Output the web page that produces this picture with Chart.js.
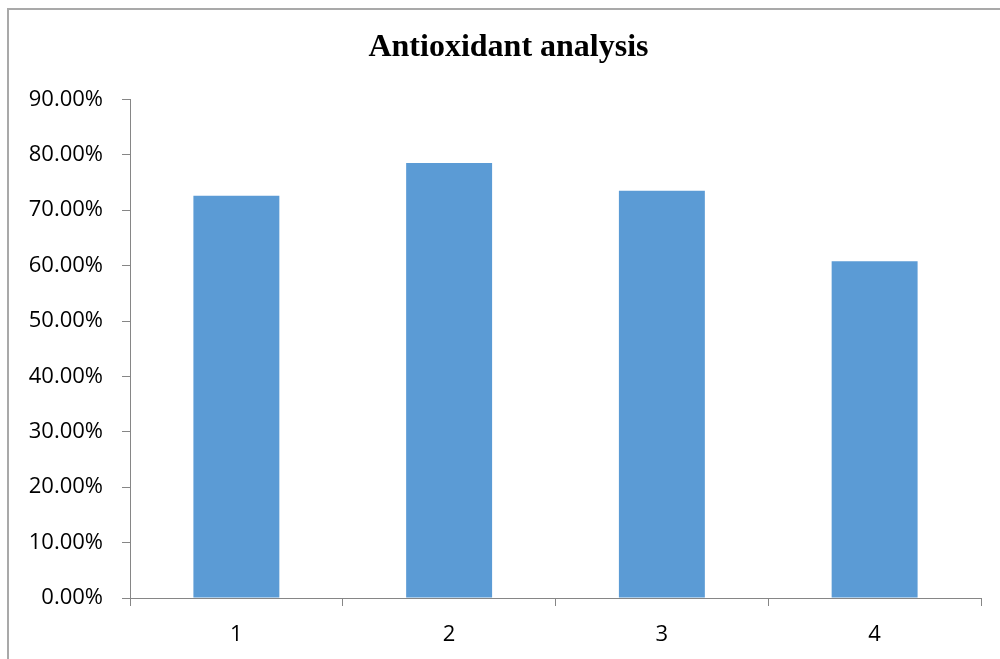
<!DOCTYPE html>
<html>
<head>
<meta charset="utf-8">
<title>Antioxidant analysis</title>
<script src="https://cdn.jsdelivr.net/npm/chart.js@4/dist/chart.umd.min.js"></script>
<style>
  html, body { margin: 0; padding: 0; background: #ffffff; }
  #wrap { width: 1000px; height: 659px; position: relative; }
</style>
</head>
<body>
<div id="wrap"><canvas id="chart" width="1000" height="659"></canvas></div>
<script>
// Sample numbers on the x axis
const categories = ['1', '2', '3', '4'];
// Antioxidant activity, percent
const antioxidantValues = [72.6, 78.5, 73.5, 60.8];
// Value axis range and step (percent)
const yMin = 0;
const yMax = 90;
const yStep = 10;

const axisGrey = '#868686';

// Thin grey frame along the top and left edge of the chart panel
const framePlugin = {
  id: 'panelFrame',
  beforeDraw(chart) {
    const ctx = chart.ctx;
    ctx.save();
    ctx.fillStyle = '#ffffff';
    ctx.fillRect(0, 0, chart.width, chart.height);
    ctx.strokeStyle = '#a9a9a9';
    ctx.lineWidth = 2;
    ctx.beginPath();
    ctx.moveTo(8, chart.height);
    ctx.lineTo(8, 9);
    ctx.lineTo(chart.width, 9);
    ctx.stroke();
    ctx.restore();
  }
};

// Nudge the title block so the heading sits centred over the whole panel
const titleShiftPlugin = {
  id: 'titleShift',
  afterLayout(chart) {
    const t = chart.titleBlock;
    if (t) { t.left += 8; t.right += 8; }
  }
};

new Chart(document.getElementById('chart'), {
  type: 'bar',
  data: {
    labels: categories,
    datasets: [{
      label: 'Antioxidant analysis',
      data: antioxidantValues,
      backgroundColor: '#5b9bd5',
      borderWidth: 0,
      barPercentage: 0.404,
      categoryPercentage: 1.0
    }]
  },
  options: {
    responsive: false,
    animation: false,
    devicePixelRatio: 1,
    layout: { padding: { left: 20, right: 19, top: 0, bottom: 0 } },
    plugins: {
      legend: { display: false },
      tooltip: { enabled: false },
      title: {
        display: true,
        text: 'Antioxidant analysis',
        color: '#000000',
        font: { family: '"Liberation Serif", "Times New Roman", serif', size: 32, weight: 'bold' },
        padding: { top: 29, bottom: 32 }
      }
    },
    scales: {
      x: {
        offset: true,
        grid: {
          offset: true,
          drawOnChartArea: false,
          drawTicks: true,
          tickLength: 8,
          color: axisGrey,
          lineWidth: 1
        },
        border: { display: true, color: axisGrey, width: 1 },
        ticks: {
          color: '#000000',
          font: { family: '"Open Sans", sans-serif', size: 22 },
          padding: 16,
          maxRotation: 0
        },
        afterFit(scale) { scale.height = 61; }
      },
      y: {
        min: yMin,
        max: yMax,
        grid: {
          drawOnChartArea: false,
          drawTicks: true,
          tickLength: 8,
          color: axisGrey,
          lineWidth: 1
        },
        border: { display: true, color: axisGrey, width: 1 },
        ticks: {
          stepSize: yStep,
          color: '#000000',
          font: { family: '"Open Sans", sans-serif', size: 22 },
          padding: 19,
          callback: (v) => Number(v).toFixed(2) + '%'
        },
        afterFit(scale) { scale.width = 110; }
      }
    }
  },
  plugins: [framePlugin, titleShiftPlugin]
});
</script>
</body>
</html>
